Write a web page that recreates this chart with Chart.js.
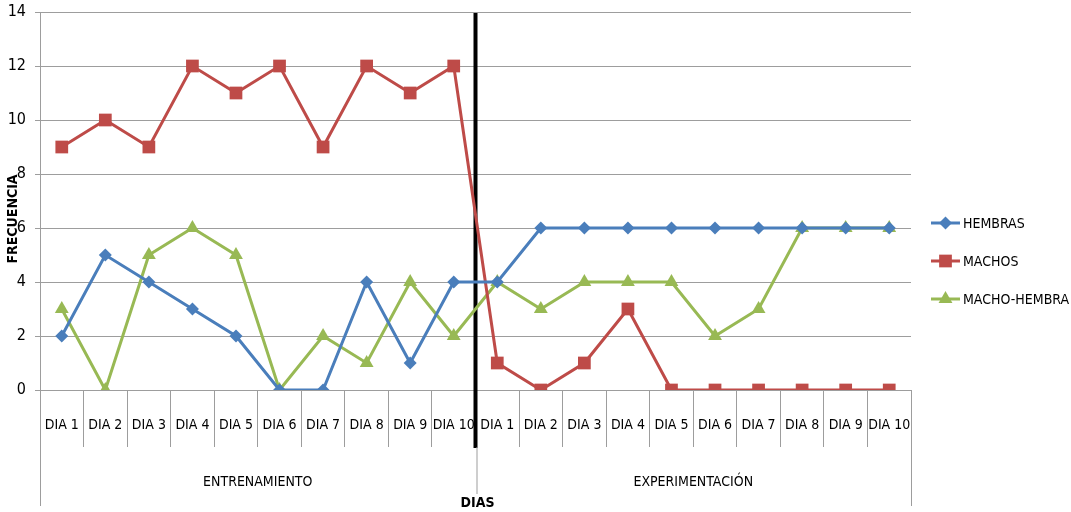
<!DOCTYPE html>
<html>
<head>
<meta charset="utf-8">
<script src="https://cdn.jsdelivr.net/npm/chart.js@4.4.1/dist/chart.umd.min.js"></script>
<style>
  html, body { margin: 0; padding: 0; background: #fff; }
</style>
</head>
<body>
<canvas id="graficoFrecuencia" width="1071" height="512"></canvas>
<script>
// datos
const dias = ['DIA 1', 'DIA 2', 'DIA 3', 'DIA 4', 'DIA 5', 'DIA 6', 'DIA 7', 'DIA 8', 'DIA 9', 'DIA 10',
              'DIA 1', 'DIA 2', 'DIA 3', 'DIA 4', 'DIA 5', 'DIA 6', 'DIA 7', 'DIA 8', 'DIA 9', 'DIA 10'];
const fases = ['ENTRENAMIENTO', 'EXPERIMENTACIÓN'];
const hembras = [2, 5, 4, 3, 2, 0, 0, 4, 1, 4, 4, 6, 6, 6, 6, 6, 6, 6, 6, 6];
const machos = [9, 10, 9, 12, 11, 12, 9, 12, 11, 12, 1, 0, 1, 3, 0, 0, 0, 0, 0, 0];
const machoHembra = [3, 0, 5, 6, 5, 0, 2, 1, 4, 2, 4, 3, 4, 4, 4, 2, 3, 6, 6, 6];
const yMax = 14;
const yPaso = 2;

const fuente = "'Liberation Sans Narrow', 'DejaVu Sans Condensed', 'Arial Narrow', sans-serif";
const gris = '#9d9d9d';

function serie(label, data, color, estilo, radio) {
  return {
    label: label,
    data: data,
    borderColor: color,
    backgroundColor: color,
    borderWidth: 3,
    pointStyle: estilo,
    pointRadius: radio,
    pointHoverRadius: radio,
    pointBorderWidth: 0,
    tension: 0
  };
}

// ejes de dos niveles, linea negra, titulos y leyenda
const marcoDias = {
  id: 'marcoDias',
  beforeDatasetsDraw(chart) {
    const ctx = chart.ctx;
    const x = chart.scales.x;
    const area = chart.chartArea;
    const corte = (x.getPixelForValue(9) + x.getPixelForValue(10)) / 2;
    ctx.save();
    ctx.strokeStyle = '#000';
    ctx.lineWidth = 4;
    ctx.beginPath();
    ctx.moveTo(corte, area.top + 1);
    ctx.lineTo(corte, area.bottom + 58);
    ctx.stroke();
    ctx.restore();
  },
  afterDraw(chart) {
    const ctx = chart.ctx;
    const x = chart.scales.x;
    const area = chart.chartArea;
    const corte = (x.getPixelForValue(9) + x.getPixelForValue(10)) / 2;
    ctx.save();

    // lineas del segundo nivel
    ctx.strokeStyle = gris;
    ctx.lineWidth = 1;
    ctx.beginPath();
    ctx.moveTo(area.left + 0.5, area.bottom);
    ctx.lineTo(area.left + 0.5, area.bottom + 116);
    ctx.moveTo(corte + 1.5, area.bottom + 57);
    ctx.lineTo(corte + 1.5, area.bottom + 104);
    ctx.moveTo(area.right + 0.5, area.bottom);
    ctx.lineTo(area.right + 0.5, area.bottom + 116);
    ctx.stroke();

    // etiquetas de dias
    ctx.fillStyle = '#000';
    ctx.textAlign = 'center';
    ctx.textBaseline = 'middle';
    ctx.font = '14px ' + fuente;
    dias.forEach((d, i) => {
      ctx.fillText(d, x.getPixelForValue(i), area.bottom + 35);
    });

    // etiquetas de fase
    const centro1 = (area.left + corte) / 2;
    const centro2 = (corte + area.right) / 2;
    ctx.fillText(fases[0], centro1, area.bottom + 92);
    ctx.fillText(fases[1], centro2, area.bottom + 92);

    // titulos de ejes
    ctx.font = 'bold 14px ' + fuente;
    ctx.fillText('DIAS', corte + 2, 503);
    ctx.save();
    ctx.translate(13, 219);
    ctx.rotate(-Math.PI / 2);
    ctx.fillText('FRECUENCIA', 0, 0);
    ctx.restore();

    // leyenda
    ctx.font = '14px ' + fuente;
    ctx.textAlign = 'left';
    const filas = [223, 261, 299];
    chart.data.datasets.forEach((ds, i) => {
      const y = filas[i];
      ctx.strokeStyle = ds.borderColor;
      ctx.lineWidth = 3;
      ctx.beginPath();
      ctx.moveTo(931, y);
      ctx.lineTo(960, y);
      ctx.stroke();
      ctx.fillStyle = ds.backgroundColor;
      Chart.helpers.drawPoint(ctx, {
        pointStyle: ds.pointStyle,
        radius: ds.pointRadius,
        rotation: 0,
        borderWidth: 0
      }, 945.5, y);
      ctx.fillStyle = '#000';
      ctx.fillText(ds.label, 963, y + 1);
    });
    ctx.restore();
  }
};

new Chart(document.getElementById('graficoFrecuencia'), {
  type: 'line',
  data: {
    labels: dias,
    datasets: [
      serie('HEMBRAS', hembras, '#4a7ebb', 'rectRot', 6.5),
      serie('MACHOS', machos, '#be4b48', 'rect', 9),
      serie('MACHO-HEMBRA', machoHembra, '#98b954', 'triangle', 8)
    ]
  },
  options: {
    responsive: false,
    devicePixelRatio: 1,
    animation: false,
    layout: {
      padding: { top: 12, right: 160, left: 0, bottom: 0 }
    },
    plugins: {
      legend: { display: false },
      tooltip: { enabled: false }
    },
    scales: {
      x: {
        type: 'category',
        offset: true,
        grid: {
          offset: true,
          drawOnChartArea: false,
          tickLength: 57,
          color: gris
        },
        border: { color: gris },
        ticks: { display: false },
        afterFit: (s) => { s.height = 122; }
      },
      y: {
        min: 0,
        max: yMax,
        ticks: {
          stepSize: yPaso,
          padding: 9,
          color: '#000',
          font: { family: fuente, size: 16 }
        },
        grid: {
          color: gris,
          tickLength: 5
        },
        border: { color: gris },
        afterFit: (s) => { s.width = 40; s.paddingTop = 0; s.paddingBottom = 0; }
      }
    }
  },
  plugins: [marcoDias]
});
</script>
</body>
</html>
